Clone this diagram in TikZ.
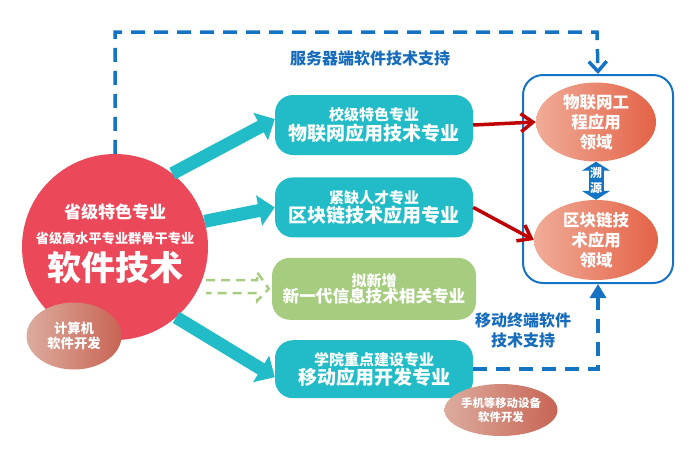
\documentclass[tikz,border=0pt]{standalone}
\usepackage{fontspec}
\setmainfont{Noto Sans CJK SC}
\usetikzlibrary{arrows.meta,shapes.geometric,positioning}

\definecolor{softred}{RGB}{235,72,90}
\definecolor{boxteal}{RGB}{33,188,199}
\definecolor{boxgreen}{RGB}{166,204,128}
\definecolor{lineblue}{RGB}{21,115,196}
\definecolor{textblue}{RGB}{22,108,188}
\definecolor{arrowred}{RGB}{192,0,0}
\definecolor{fieldlight}{RGB}{240,172,152}
\definecolor{fielddark}{RGB}{228,98,70}
\definecolor{devlight}{RGB}{220,172,158}
\definecolor{devdark}{RGB}{200,100,84}

\tikzset{
  tealbox/.style={rectangle, rounded corners=18pt, fill=boxteal, text=white,
    minimum width=198pt, minimum height=60pt, align=center, font=\bfseries},
  fieldellipse/.style={ellipse, left color=fieldlight, right color=fielddark,
    text=white, inner sep=0pt, align=center,
    font=\bfseries\fontsize{16.5}{20}\selectfont},
  devellipse/.style={ellipse, left color=devlight, right color=devdark,
    text=white, inner sep=0pt, align=center},
  bluedash/.style={lineblue, line width=3.5pt, dash pattern=on 14pt off 9pt},
  tealarrow/.style={boxteal, line width=13pt, -{Triangle[length=16pt,width=30pt]}},
  redarrow/.style={arrowred, line width=3.5pt, -{Straight Barb[length=12pt,width=18pt]}},
  support/.style={text=textblue, align=center, font=\bfseries\fontsize{16}{20}\selectfont}
}

\begin{document}
\begin{tikzpicture}[x=1pt,y=-1pt]
    \useasboundingbox (0,0) rectangle (692,451);

    % software technology
    \node (soft) [circle, fill=softred, minimum size=186pt] at (115,247) {};
    \node (soft1) [text=white, font=\bfseries\fontsize{17}{20}\selectfont] at (115,212) {省级特色专业};
    \node (soft2) [text=white, font=\bfseries\fontsize{13.2}{16}\selectfont] at (115,238) {省级高水平专业群骨干专业};
    \node (soft3) [text=white, font=\bfseries\fontsize{34}{38}\selectfont] at (115,268) {软件技术};
    \node (pc) [devellipse, minimum width=95pt, minimum height=67pt,
        font=\bfseries\fontsize{13.3}{15}\selectfont] at (74,336) {计算机\\软件开发};

    % majors
    \node (box1) [tealbox] at (374,125)
        {\fontsize{15}{22}\selectfont 校级特色专业\\\fontsize{19}{22}\selectfont 物联网应用技术专业};
    \node (box2) [tealbox, below=22pt of box1]
        {\fontsize{15}{22}\selectfont 紧缺人才专业\\\fontsize{19}{22}\selectfont 区块链技术应用专业};
    \node (newbox) [tealbox, fill=boxgreen, minimum width=204pt, minimum height=62pt, below=20pt of box2]
        {\fontsize{15}{18}\selectfont 拟新增\\\fontsize{16.6}{18}\selectfont 新一代信息技术相关专业};
    \node (box4) [tealbox, minimum height=58pt, below=20pt of newbox]
        {\fontsize{15}{22}\selectfont 学院重点建设专业\\\fontsize{19}{22}\selectfont 移动应用开发专业};
    \node (mobile) [devellipse, minimum width=113pt, minimum height=52pt,
        font=\bfseries\fontsize{11.4}{14}\selectfont] at (501,410) {手机等移动设备\\软件开发};

    % application fields
    \node (area) [draw=lineblue, line width=2pt, rounded corners=20pt,
        minimum width=150pt, minimum height=208pt] at (598,179) {};
    \node (iot) [fieldellipse, minimum width=120pt, minimum height=75pt] at (596,122) {物联网工\\程应用\\领域};
    \node (chain) [fieldellipse, minimum width=124pt, minimum height=80pt] at (596,240) {区块链技\\术应用\\领域};

    \draw[lineblue, line width=15pt, {Triangle[length=9pt,width=28pt]}-{Triangle[length=9pt,width=28pt]}]
        (iot.south) -- (chain.north);
    \node (trace) [text=white, align=center, font=\bfseries\fontsize{12}{15}\selectfont] at (596,180) {溯\\源};

    % connections
    \draw[tealarrow] (soft.52) -- ([yshift=6pt]box1.west);
    \draw[tealarrow] (soft.16) -- (box2.west);
    \draw[tealarrow] (soft.-49) -- ([yshift=-8pt]box4.west);
    \draw[boxgreen, line width=2.5pt, dash pattern=on 9pt off 6pt]
        (206,280) -- ++(51,0) -- ++(0,-8) -- ([xshift=-3pt]newbox.west) -- (257,301) -- ++(0,-8) -- (206,293);
    \draw[redarrow] (box1.east) -- (iot.west);
    \draw[redarrow] (box2.east) -- (chain.west);

    \coordinate (topturn) at (597,32);
    \draw[bluedash, -{Straight Barb[length=10pt,width=18pt]}] (soft.north) |- (topturn) -- (area.north);
    \node (server) [support] at (370,58) {服务器端软件技术支持};
    \draw[bluedash, -{Triangle[length=14pt,width=16pt]}] (box4.east) -| (area.south);
    \node (client) [support] at (523,330) {移动终端软件\\技术支持};
\end{tikzpicture}
\end{document}
